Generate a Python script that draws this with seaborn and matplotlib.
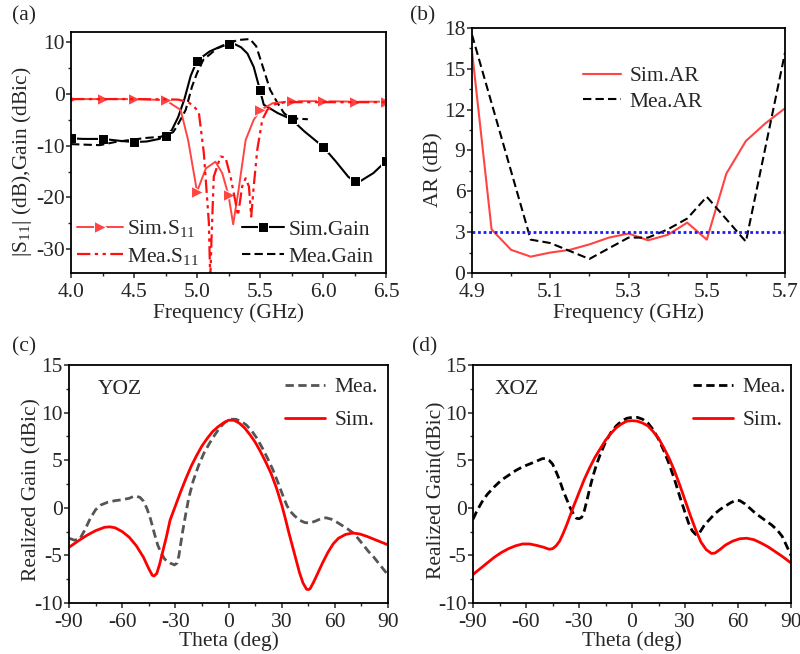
import numpy as np
import pandas as pd
import seaborn as sns
import matplotlib
matplotlib.use("Agg")
import matplotlib.pyplot as plt
from matplotlib.ticker import MultipleLocator, FixedLocator, FormatStrFormatter

# ---------------- (a) S11 and gain versus frequency ----------------
f_sim_s11 = [4.0, 4.25, 4.5, 4.75, 4.87, 4.93, 5.0, 5.07, 5.146, 5.2, 5.25, 5.287,
             5.33, 5.386, 5.45, 5.5, 5.6, 5.75, 6.0, 6.25, 6.5]
sim_s11 = [-1.0, -1.0, -1.0, -1.2, -3.1, -9.0, -18.9, -14.4, -13.1, -15.3, -19.6, -25.2,
           -18.5, -8.9, -5.0, -3.2, -1.8, -1.4, -1.4, -1.5, -1.5]
sim_s11_marks = [4.0, 4.25, 4.5, 4.75, 5.0, 5.25, 5.5, 5.75, 6.0, 6.25, 6.5]

f_mea_s11 = [4.0, 4.5, 4.85, 4.93, 4.97, 5.014, 5.054, 5.094, 5.105, 5.115, 5.133, 5.186,
             5.226, 5.266, 5.306, 5.325, 5.358, 5.386, 5.412, 5.43, 5.45, 5.478, 5.518,
             5.56, 5.62, 5.7, 6.0, 6.5]
mea_s11 = [-1.0, -1.0, -1.1, -1.6, -2.3, -3.5, -11.4, -24.9, -36.0, -28.0, -16.0, -12.1,
           -12.3, -16.0, -21.0, -23.5, -17.9, -16.3, -17.9, -23.7, -17.9, -10.8, -5.0,
           -3.0, -2.0, -1.6, -1.6, -1.6]

f_sim_gain = [4.0, 4.1, 4.25, 4.4, 4.5, 4.6, 4.7, 4.75, 4.8, 4.85, 4.9, 4.95, 5.0, 5.1,
              5.2, 5.25, 5.3, 5.35, 5.4, 5.45, 5.5, 5.53, 5.64, 5.75, 5.85, 6.0, 6.1,
              6.2, 6.25, 6.3, 6.4, 6.5]
sim_gain = [-8.6, -8.7, -8.7, -9.1, -9.3, -9.2, -8.7, -8.1, -7.0, -4.5, -1.0, 3.5, 6.4,
            8.2, 9.3, 9.7, 9.6, 9.0, 7.8, 5.2, 0.7, -2.1, -3.7, -4.9, -7.2, -10.2, -13.0,
            -16.0, -16.9, -16.8, -15.3, -13.0]
sim_gain_marks = [4.0, 4.25, 4.5, 4.75, 5.0, 5.25, 5.5, 5.75, 6.0, 6.25, 6.5]

f_mea_gain = [4.0, 4.1, 4.23, 4.35, 4.5, 4.6, 4.71, 4.81, 4.84, 4.91, 4.96, 5.0, 5.05,
              5.16, 5.32, 5.42, 5.47, 5.53, 5.58, 5.64, 5.69, 5.74, 5.88]
mea_gain = [-9.7, -9.8, -9.9, -9.3, -8.8, -8.5, -8.3, -7.4, -6.3, -3.1, 1.4, 4.0, 6.6,
            8.8, 10.4, 10.6, 9.2, 4.65, 0.8, -1.8, -3.7, -4.7, -4.9]

# ---------------- (b) axial ratio ----------------
f_sim_ar = [4.9, 4.95, 5.0, 5.05, 5.1, 5.15, 5.2, 5.25, 5.3, 5.35, 5.4, 5.45, 5.5,
            5.55, 5.6, 5.65, 5.7]
sim_ar = [16.3, 3.2, 1.7, 1.2, 1.5, 1.7, 2.1, 2.6, 2.9, 2.4, 2.8, 3.7, 2.45, 7.3, 9.7,
          11.0, 12.1]
f_mea_ar = [4.9, 5.05, 5.1, 5.2, 5.3, 5.35, 5.4, 5.45, 5.5, 5.6, 5.7]
mea_ar = [17.5, 2.45, 2.2, 1.03, 2.6, 2.6, 3.2, 4.0, 5.6, 2.3, 16.2]
ar_limit = 3
ar_ticks = [4.9, 5.1, 5.3, 5.5, 5.7]

# ---------------- (c) YOZ pattern ----------------
th_yoz_sim = [-90, -85, -80, -75, -70, -67, -64, -60, -56, -52, -48, -45, -43, -42,
              -40.5, -39, -37, -35, -33, -30, -27, -24, -21, -18, -15, -12, -9, -6, -3,
              0, 3, 6, 9, 12, 15, 18, 21, 24, 27, 30, 32, 34, 36, 38, 40, 42, 44, 45,
              46, 48, 50, 53, 56, 59, 62, 66, 70, 74, 78, 82, 86, 90]
yoz_sim = [-4.15, -3.5, -2.9, -2.4, -2.05, -2.0, -2.1, -2.5, -3.1, -4.0, -5.2, -6.4,
           -7.1, -7.16, -6.9, -6.0, -4.5, -3.0, -1.3, 0.2, 1.7, 3.1, 4.4, 5.5, 6.5, 7.3,
           8.0, 8.5, 8.9, 9.2, 9.2, 8.9, 8.4, 7.7, 6.9, 5.9, 4.8, 3.6, 2.1, 0.3, -1.1,
           -2.6, -4.0, -5.4, -6.8, -7.9, -8.55, -8.6, -8.5, -7.8, -7.0, -5.8, -4.7,
           -3.8, -3.2, -2.8, -2.65, -2.75, -3.0, -3.3, -3.6, -3.9]
th_yoz_mea = [-90, -87, -84, -81, -78, -75, -72, -68, -64, -60, -56, -53, -50, -48,
              -46, -44, -42, -40, -38, -36, -33, -30.5, -29, -28, -27, -26, -24.5,
              -22.5, -20, -17, -14, -11, -8, -5, -2, 1, 4, 7, 10, 13, 16, 19, 22, 25,
              28, 31, 33, 35, 37, 40, 43, 46, 49, 52, 55, 58, 61, 64, 67, 70, 73, 76,
              79, 82, 85, 88, 90]
yoz_mea = [-3.2, -3.4, -3.3, -2.3, -1.1, -0.2, 0.3, 0.6, 0.75, 0.85, 1.0, 1.25, 1.1,
           0.7, -0.1, -1.2, -2.6, -3.9, -4.8, -5.4, -5.8, -6.0, -5.8, -5.0, -3.8, -2.6,
           -1.0, 1.0, 2.8, 4.4, 5.7, 6.7, 7.6, 8.4, 9.0, 9.3, 9.3, 9.1, 8.7, 8.1, 7.3,
           6.3, 5.2, 4.0, 2.6, 1.1, 0.2, -0.4, -0.8, -1.3, -1.55, -1.6, -1.4, -1.15,
           -1.05, -1.2, -1.5, -1.85, -2.2, -2.6, -3.2, -3.9, -4.6, -5.2, -5.9, -6.6,
           -7.05]

# ---------------- (d) XOZ pattern ----------------
th_xoz_sim = [-90, -86, -82, -78, -74, -70, -66, -62, -58, -54, -50, -47, -45, -43,
              -41, -39, -37, -35, -33, -30, -27, -24, -21, -18, -15, -12, -9, -6, -3,
              0, 3, 6, 9, 12, 15, 18, 21, 24, 27, 30, 33, 36, 39, 42, 45, 47, 50, 53,
              57, 61, 65, 69, 73, 77, 81, 85, 90]
xoz_sim = [-7.0, -6.4, -5.8, -5.2, -4.7, -4.3, -4.0, -3.8, -3.8, -3.95, -4.15, -4.35,
           -4.3, -4.0, -3.5, -2.7, -1.8, -0.8, 0.2, 1.6, 3.0, 4.2, 5.3, 6.2, 7.1, 7.8,
           8.4, 8.8, 9.1, 9.15, 9.1, 8.9, 8.6, 8.0, 7.3, 6.3, 5.2, 3.9, 2.4, 0.8, -0.8,
           -2.3, -3.6, -4.4, -4.8, -4.75, -4.35, -3.9, -3.5, -3.25, -3.2, -3.35, -3.7,
           -4.1, -4.6, -5.1, -5.8]
th_xoz_mea = [-90, -88, -85, -82, -78, -74, -70, -66, -62, -58, -54, -51, -49, -47,
              -45, -43, -41, -39, -37, -35, -33, -31.5, -30, -28.5, -27, -25.5, -24,
              -22, -20, -18, -15, -12, -9, -6, -3, 0, 3, 6, 9, 12, 15, 18, 21, 24, 27,
              30, 32, 34, 36, 37.5, 39, 41, 44, 47, 50, 53, 56, 59, 61, 64, 67, 70, 73,
              76, 79, 82, 85, 88, 90]
xoz_mea = [-1.2, -0.4, 0.6, 1.4, 2.2, 2.9, 3.4, 3.9, 4.3, 4.6, 4.9, 5.15, 5.2, 5.0,
           4.6, 3.8, 2.9, 1.8, 0.9, 0.0, -0.7, -1.1, -1.15, -1.0, -0.3, 0.8, 2.0, 3.4,
           4.6, 5.6, 6.9, 7.9, 8.6, 9.1, 9.4, 9.5, 9.5, 9.3, 8.9, 8.2, 7.2, 6.0, 4.6,
           3.0, 1.2, -0.5, -1.6, -2.4, -2.8, -2.8, -2.4, -1.8, -1.2, -0.6, -0.15, 0.2,
           0.55, 0.8, 0.75, 0.4, -0.1, -0.6, -1.0, -1.4, -1.8, -2.3, -3.0, -4.2, -5.0]

FS = 15.5
sns.set_theme(style="ticks")
plt.rcParams.update({
    "font.family": ["Liberation Serif", "DejaVu Serif"],
    "mathtext.fontset": "stix",
    "axes.unicode_minus": False,
    "font.size": FS,
    "axes.linewidth": 1.3,
    "xtick.direction": "out",
    "ytick.direction": "out",
    "xtick.major.size": 3.5,
    "ytick.major.size": 3.5,
    "xtick.minor.size": 2.2,
    "ytick.minor.size": 2.2,
    "xtick.major.width": 1.1,
    "ytick.major.width": 1.1,
    "xtick.minor.width": 1.0,
    "ytick.minor.width": 1.0,
    "xtick.labelsize": FS,
    "ytick.labelsize": FS,
    "axes.labelsize": FS,
    "legend.fontsize": FS,
    "xtick.major.pad": 3.5,
    "ytick.major.pad": 1.2,
})

fig = plt.figure(figsize=(8.0, 6.54), dpi=100)
ax_a = fig.add_axes([0.0888, 0.5826, 0.3937, 0.3688])
ax_b = fig.add_axes([0.590, 0.5826, 0.3913, 0.3746])
ax_c = fig.add_axes([0.0863, 0.0780, 0.3988, 0.3639])
ax_d = fig.add_axes([0.5913, 0.0780, 0.3975, 0.3639])


def draw(ax, x, y, **kw):
    df = pd.DataFrame({"x": x, "y": y})
    sns.lineplot(data=df, x="x", y="y", ax=ax, estimator=None, sort=False, **kw)


# ---- (a)
red_light = "#ff4444"
idx_s11 = [f_sim_s11.index(v) for v in sim_s11_marks]
idx_gain = [f_sim_gain.index(v) for v in sim_gain_marks]
draw(ax_a, f_sim_gain, sim_gain, color="black", lw=1.5, marker="s", markersize=6.5,
     markevery=idx_gain, label="Sim.Gain")
draw(ax_a, f_mea_gain, mea_gain, color="black", lw=1.5, linestyle=(0, (4, 2)),
     label="Mea.Gain")
draw(ax_a, f_sim_s11, sim_s11, color=red_light, lw=1.4, marker=">", markersize=8.5,
     markevery=idx_s11, label=r"Sim.S$_{\mathregular{11}}$")
draw(ax_a, f_mea_s11, mea_s11, color="#ff1010", lw=1.6,
     linestyle=(0, (6, 2, 1.5, 2, 1.5, 2)), label=r"Mea.S$_{\mathregular{11}}$")
ax_a.set_xlim(4.0, 6.5)
ax_a.set_ylim(-34.6, 12)
ax_a.xaxis.set_major_locator(MultipleLocator(0.5))
ax_a.xaxis.set_minor_locator(MultipleLocator(0.25))
ax_a.yaxis.set_major_locator(MultipleLocator(10))
ax_a.yaxis.set_minor_locator(MultipleLocator(5))
ax_a.xaxis.set_major_formatter(FormatStrFormatter("%.1f"))
ax_a.set_xlabel("Frequency (GHz)", labelpad=1)
ax_a.set_ylabel(r"|S$_{\mathregular{11}}$| (dB),Gain (dBic)")
ax_a.yaxis.set_label_coords(-0.118, 0.46)
h, l = ax_a.get_legend_handles_labels()
leg1 = ax_a.legend(h[2:4], l[2:4], loc="lower left", frameon=False, handlelength=2.15,
                   handletextpad=0.2, labelspacing=0.3, borderaxespad=0.0,
                   borderpad=0.3, bbox_to_anchor=(-0.003, 0.0))
ax_a.add_artist(leg1)
ax_a.legend(h[0:2], l[0:2], loc="lower right", frameon=False, handlelength=1.95,
            handletextpad=0.2, labelspacing=0.3, borderaxespad=0.0, borderpad=0.3,
            bbox_to_anchor=(0.98, 0.0))

# ---- (b)
draw(ax_b, f_sim_ar, sim_ar, color=red_light, lw=1.5, label="Sim.AR")
draw(ax_b, f_mea_ar, mea_ar, color="black", lw=1.5, linestyle=(0, (4, 2)),
     label="Mea.AR")
ax_b.axhline(ar_limit, color="#1a1aff", lw=2.0, linestyle=(0, (1, 1)))
ax_b.set_xlim(4.9, 5.7)
ax_b.set_ylim(0, 18)
ax_b.xaxis.set_major_locator(FixedLocator(ar_ticks))
ax_b.xaxis.set_minor_locator(MultipleLocator(0.1))
ax_b.yaxis.set_major_locator(MultipleLocator(3))
ax_b.yaxis.set_minor_locator(MultipleLocator(1.5))
ax_b.xaxis.set_major_formatter(FormatStrFormatter("%.1f"))
ax_b.set_xlabel("Frequency (GHz)", labelpad=1)
ax_b.set_ylabel("AR (dB)")
ax_b.yaxis.set_label_coords(-0.09, 0.42)
ax_b.legend(loc="upper left", bbox_to_anchor=(0.327, 0.88), frameon=False,
            handlelength=1.75, handletextpad=0.4, labelspacing=0.25, borderaxespad=0)

# ---- (c) and (d)
for ax, th_s, v_s, th_m, v_m, mea_color, tag, tag_x, ylab, ylab_x, leg_x in [
    (ax_c, th_yoz_sim, yoz_sim, th_yoz_mea, yoz_mea, "#555555", "YOZ", 0.09,
     "Realized Gain (dBic)", -0.085, 0.995),
    (ax_d, th_xoz_sim, xoz_sim, th_xoz_mea, xoz_mea, "black", "XOZ", 0.069,
     "Realized Gain(dBic)", -0.082, 1.012),
]:
    draw(ax, th_m, v_m, color=mea_color, lw=2.0, linestyle=(0, (3, 1.6)), label="Mea.")
    draw(ax, th_s, v_s, color="#ff0000", lw=2.0, label="Sim.")
    ax.set_xlim(-90, 90)
    ax.set_ylim(-10, 15)
    ax.xaxis.set_major_locator(MultipleLocator(30))
    ax.xaxis.set_minor_locator(MultipleLocator(15))
    ax.yaxis.set_major_locator(MultipleLocator(5))
    ax.yaxis.set_minor_locator(MultipleLocator(2.5))
    ax.set_xlabel("Theta (deg)", labelpad=0)
    ax.set_ylabel(ylab)
    ax.yaxis.set_label_coords(ylab_x, 0.475)
    ax.text(tag_x, 0.895, tag, transform=ax.transAxes, ha="left", va="center",
            fontsize=FS)
    ax.legend(loc="upper right", frameon=False, handlelength=1.85, handletextpad=0.45,
              labelspacing=0.6, borderaxespad=0.0, bbox_to_anchor=(leg_x, 0.985))

for ax in (ax_a, ax_b, ax_c, ax_d):
    for s in ax.spines.values():
        s.set_visible(True)
        s.set_color("black")
    ax.tick_params(which="both", top=False, right=False)

# panel tags
for x, y, t in [(0.015, 0.975, "(a)"), (0.513, 0.975, "(b)"),
                (0.015, 0.47, "(c)"), (0.515, 0.47, "(d)")]:
    fig.text(x, y, t, ha="left", va="center", fontsize=FS)

fig.savefig("out.png", dpi=100)
